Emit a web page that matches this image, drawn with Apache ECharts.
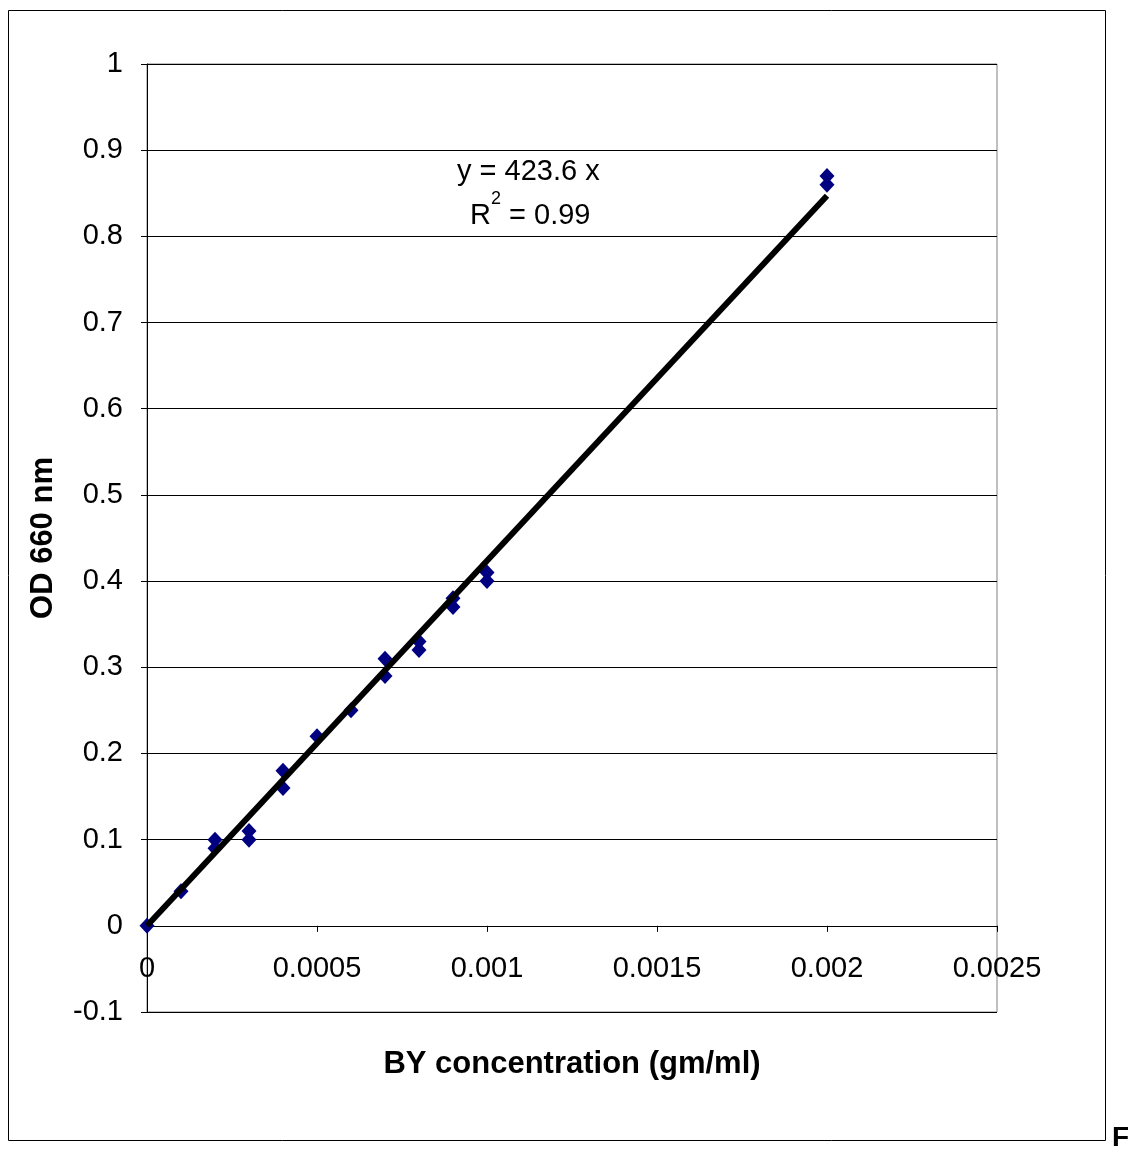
<!DOCTYPE html>
<html>
<head>
<meta charset="utf-8">
<script src="https://cdn.jsdelivr.net/npm/echarts@6/dist/echarts.min.js"></script>
<style>
  html, body { margin: 0; padding: 0; background: #fff; }
  #chart { width: 1128px; height: 1157px; }
</style>
</head>
<body>
<div id="chart"></div>
<script>
// measured points (concentration gm/ml, OD 660)
const concentration = [0, 0.0001, 0.0002, 0.0002, 0.0003, 0.0003, 0.0004, 0.0004, 0.0005, 0.0006,
  0.0007, 0.0007, 0.0008, 0.0008, 0.0009, 0.0009, 0.001, 0.001, 0.002, 0.002]
const od660 = [0, 0.04, 0.09, 0.10, 0.10, 0.11, 0.16, 0.18, 0.22, 0.25,
  0.29, 0.31, 0.32, 0.33, 0.37, 0.38, 0.40, 0.41, 0.86, 0.87]
// trendline y = slope * x
const slope = 423.6
const trendX = [0, 0.002]
const rSquared = '0.99'

window.addEventListener('DOMContentLoaded', () => {
    const chart = echarts.init(document.getElementById('chart'))
    const font = 'Liberation Sans, Arial, sans-serif'

    const points = concentration.map((x, i) => [x, od660[i]])
    const trend = trendX.map(x => [x, slope * x])

    const option = {
        animation: false,
        backgroundColor: '#fff',
        grid: {
            left: 147,
            right: 131,
            top: 64,
            bottom: 145,
            outerBoundsMode: 'none',
            containLabel: false,
            show: true,
            borderColor: '#808080',
            borderWidth: 1,
        },
        xAxis: {
            type: 'value',
            min: 0,
            max: 0.0025,
            interval: 0.0005,
            name: 'BY concentration (gm/ml)',
            nameLocation: 'middle',
            // labels/name sit under the zero line, not the plot bottom
            nameGap: 37,
            nameTextStyle: { fontFamily: font, fontSize: 31, fontWeight: 'bold', color: '#000' },
            axisLine: { show: true, onZero: true, lineStyle: { color: '#000', width: 1 } },
            axisTick: { show: true, inside: false, length: 6, lineStyle: { color: '#000' } },
            axisLabel: {
                margin: -58,
                fontFamily: font,
                fontSize: 29,
                color: '#000',
                formatter: v => String(parseFloat(v.toPrecision(6))),
            },
            splitLine: { show: false },
        },
        yAxis: {
            type: 'value',
            min: -0.1,
            max: 1,
            interval: 0.1,
            name: 'OD 660 nm',
            nameLocation: 'middle',
            nameGap: 88,
            nameTextStyle: { fontFamily: font, fontSize: 31, fontWeight: 'bold', color: '#000' },
            axisLine: { show: true, onZero: false, lineStyle: { color: '#000', width: 1 } },
            axisTick: { show: true, length: 6, lineStyle: { color: '#000' } },
            axisLabel: {
                margin: 24,
                fontFamily: font,
                fontSize: 29,
                color: '#000',
                formatter: v => String(parseFloat(v.toFixed(1))),
            },
            splitLine: { show: true, lineStyle: { color: '#000', width: 1 } },
        },
        series: [
            {
                name: 'OD',
                type: 'scatter',
                symbol: 'diamond',
                symbolSize: [15, 16],
                itemStyle: { color: '#000080', opacity: 1 },
                data: points,
                z: 2,
            },
            {
                name: 'trend',
                type: 'line',
                data: trend,
                symbol: 'none',
                lineStyle: { color: '#000', width: 6 },
                z: 3,
            },
        ],
        graphic: [
            {
                type: 'rect',
                shape: { x: 8.5, y: 10.5, width: 1097, height: 1130 },
                style: { fill: 'none', stroke: '#000', lineWidth: 1 },
                z: -1,
            },
            {
                type: 'text',
                left: 457,
                top: 157,
                style: { text: 'y = ' + slope + ' x', font: '29px ' + font, fill: '#000' },
            },
            {
                type: 'text',
                left: 470,
                top: 190,
                style: {
                    text: '{a|R}{s|2}{a| = ' + rSquared + '}',
                    rich: {
                        a: { font: '29px ' + font, fill: '#000', verticalAlign: 'bottom', lineHeight: 40 },
                        s: { font: '18px ' + font, fill: '#000', verticalAlign: 'top', lineHeight: 40 },
                    },
                },
            },
            {
                type: 'text',
                left: 1112,
                top: 1124,
                style: { text: 'F', font: 'bold 28px ' + font, fill: '#000' },
            },
        ],
    }

    chart.setOption(option)
})
</script>
</body>
</html>
